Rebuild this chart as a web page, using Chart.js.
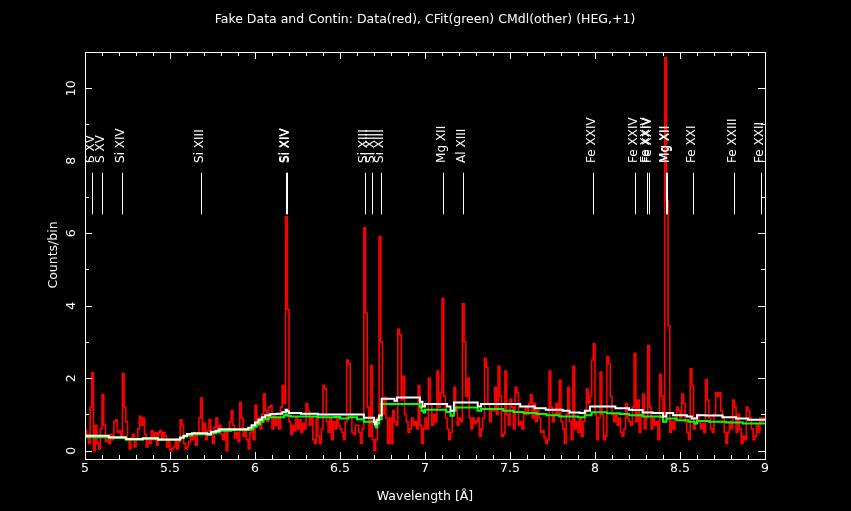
<!DOCTYPE html>
<html>
<head>
<meta charset="utf-8">
<script src="https://cdn.jsdelivr.net/npm/chart.js@4.4.0/dist/chart.umd.min.js"></script>
<style>
  html, body { margin: 0; padding: 0; background: #000; }
</style>
</head>
<body>
<canvas id="chart" width="851" height="511"></canvas>
<script>
// HEG +1 counts, 0.01 A bins starting at 5.00 A
const binStart = 5.0;
const binWidth = 0.01;
const dataCounts = [
  0.55,0.45,0.2,1.2,2.15,0.0,0.7,0.2,0.05,0.6, 1.55,0.7,0.25,0.3,0.2,0.45,0.3,0.8,0.85,0.5,
  0.55,0.4,2.12,1.2,0.8,0.3,0.05,0.35,0.45,0.1, 0.3,0.6,0.95,0.7,0.9,0.45,0.1,0.35,0.2,0.55,
  0.3,0.5,0.15,0.5,0.55,0.3,0.5,0.4,0.1,0.3,
  0.0,0.05,0.1,0.3,0.05,0.25,0.85,0.7,0.2,0.05, 0.1,0.25,0.45,0.3,0.5,0.15,0.45,0.9,1.45,0.5,
  0.75,0.3,0.55,0.85,0.45,0.2,0.65,0.9,0.5,0.7, 0.45,0.3,0.55,0.0,0.6,0.8,1.1,0.7,0.35,0.5,
  0.25,1.33,0.9,0.4,0.6,0.3,0.05,0.5,0.6,0.3,
  1.25,0.7,0.9,0.6,1.0,1.56,1.1,0.8,1.2,1.25, 0.6,1.0,0.7,0.9,0.6,1.2,1.8,1.3,6.45,3.9,
  0.8,0.45,0.7,0.55,0.9,0.6,0.85,0.5,0.75,0.6, 1.3,1.1,0.7,0.9,0.3,0.2,0.9,0.4,0.2,0.6,
  1.8,1.7,0.8,0.5,0.9,0.3,0.8,0.6,0.9,0.7,
  0.6,0.5,0.3,0.8,2.5,2.4,1.0,0.5,0.45,0.7, 0.7,0.5,0.2,0.6,6.15,3.8,1.2,0.4,2.35,0.3,
  0.0,0.3,0.9,5.9,3.0,1.0,1.47,0.9,0.2,0.9, 0.2,1.1,0.8,0.7,3.35,3.2,1.4,2.05,1.0,0.8,
  0.5,0.6,0.9,0.7,0.8,0.6,1.8,0.7,0.2,0.6,
  0.9,0.6,2.0,1.3,0.7,1.0,0.8,2.2,1.2,1.6, 4.2,1.5,0.9,0.6,0.3,0.5,1.0,1.75,1.2,0.7,
  0.9,0.8,4.05,3.0,1.5,2.0,0.9,0.6,0.9,0.75, 0.8,0.9,0.4,0.6,0.9,2.55,2.3,1.3,0.8,1.1,
  1.1,1.75,1.0,2.33,1.5,0.4,0.45,2.2,1.0,0.7,
  1.42,1.2,0.6,1.75,1.6,0.7,0.8,0.6,1.0,1.2, 1.0,1.3,1.54,0.9,1.3,0.8,1.1,0.9,0.5,0.55,
  0.36,0.2,0.3,2.2,1.2,0.8,1.0,1.3,1.0,1.94, 0.8,0.6,0.2,1.0,1.75,0.8,0.3,2.33,0.6,0.8,
  0.5,0.9,0.4,0.8,1.0,1.7,1.3,1.5,2.5,2.95,
  1.0,0.3,0.9,2.17,1.0,0.3,0.4,2.6,2.4,1.5, 1.0,0.8,1.0,0.7,0.9,0.5,0.4,0.6,1.3,0.9,
  0.8,0.7,1.2,2.68,0.8,1.4,0.5,1.0,1.56,0.6, 0.9,2.9,1.2,0.6,0.9,0.7,0.8,0.3,2.1,1.5,
  1.0,10.85,6.9,3.45,0.5,0.8,0.6,0.9,1.2,1.1,
  0.9,1.56,1.3,0.8,0.5,0.3,2.26,1.8,0.6,0.8, 1.0,0.8,0.6,0.75,0.5,1.96,1.4,0.9,0.6,0.5,
  1.0,1.6,1.5,1.6,1.1,0.9,0.5,0.2,0.5,0.8, 0.6,1.4,1.2,0.5,1.0,0.6,0.2,0.4,0.3,1.2,
  1.1,0.9,0.6,0.3,0.4,0.7,0.5,0.9,0.8,0.9
];

// continuum fit (green), step edges
const fitWave = [5.00,5.14,5.24,5.34,5.43,5.56,5.58,5.60,5.63,5.72,5.74,5.77,5.79,
  5.86,5.97,5.99,6.01,6.03,6.05,6.08,6.17,6.18,6.19,6.21,6.37,6.47,6.50,6.55,
  6.60,6.64,6.705,6.71,6.72,6.73,6.745,6.97,6.98,6.99,7.00,7.125,7.15,7.17,7.18,7.31,7.33,
  7.46,7.52,7.58,7.655,7.715,7.79,7.90,7.94,7.98,8.07,8.145,
  8.20,8.28,8.39,8.40,8.42,8.48,8.55,8.585,8.60,8.67,8.77,8.87,9.00];
const fitValue = [0.37,0.35,0.30,0.32,0.30,0.34,0.39,0.42,0.45,0.43,0.48,0.51,0.55,
  0.57,0.59,0.66,0.73,0.80,0.87,0.92,0.97,1.00,0.96,0.94,0.92,0.93,0.89,0.92,
  0.87,0.80,0.70,0.64,0.75,0.87,1.29,1.20,1.10,1.05,1.13,1.07,0.96,1.10,1.19,1.10,1.15,
  1.10,1.07,1.04,1.01,0.98,0.94,0.92,0.98,1.06,1.03,1.01,
  0.98,0.94,0.92,0.80,0.89,0.84,0.80,0.75,0.82,0.80,0.78,0.75,0.75];

// full model (white), step edges
const mdlWave = [5.00,5.14,5.24,5.34,5.43,5.56,5.58,5.60,5.63,5.72,5.74,5.77,5.79,
  5.96,5.98,6.00,6.02,6.04,6.06,6.09,6.13,6.16,6.18,6.19,6.20,6.27,6.37,
  6.64,6.70,6.705,6.715,6.73,6.745,6.82,6.835,6.97,6.985,7.00,7.13,7.15,7.17,7.31,7.33,
  7.56,7.645,7.71,7.81,7.85,7.91,7.94,7.97,8.12,
  8.20,8.22,8.28,8.34,8.40,8.42,8.46,8.54,8.57,8.60,8.65,8.75,8.83,8.90,9.00];
const mdlValue = [0.41,0.37,0.32,0.34,0.31,0.36,0.41,0.46,0.48,0.46,0.52,0.55,0.59,
  0.63,0.70,0.78,0.85,0.92,0.98,1.01,1.02,1.06,1.13,1.08,1.04,1.02,1.00,
  0.91,0.80,0.73,0.85,0.97,1.43,1.38,1.47,1.35,1.22,1.29,1.22,1.10,1.33,1.22,1.29,
  1.22,1.17,1.13,1.10,1.05,1.04,1.10,1.22,1.17,
  1.13,1.12,1.05,1.04,0.94,1.04,0.98,0.94,0.89,0.98,0.97,0.92,0.89,0.85,0.85];

// line identifications
const lineWave = [5.0387,5.1015,5.2172,5.6805,6.1804,6.1858,6.6479,6.6882,6.7403,
  7.1058,7.2250,7.9857,8.2329,8.3043,8.3162,8.4192,8.4246,8.5740,8.8149,8.9748];
const lineLabel = ["S XV","S XV","Si XIV","Si XIII","Si XIV","Si XIV","Si XIII","Si XIII","Si XIII",
  "Mg XII","Al XIII","Fe XXIV","Fe XXIV","Fe XXIV","Fe XXIV","Mg XII","Mg XII","Fe XXI","Fe XXIII","Fe XXII"];

const xTicks = [5, 5.5, 6, 6.5, 7, 7.5, 8, 8.5, 9];
const xTickLabels = ["5","5.5","6","6.5","7","7.5","8","8.5","9"];
const yTicks = [0, 2, 4, 6, 8, 10];
const yTickLabels = ["0","2","4","6","8","10"];

const titleText = "Fake Data and Contin: Data(red), CFit(green) CMdl(other) (HEG,+1)";
const xTitle = "Wavelength [\u00c5]";
const yTitle = "Counts/bin";

const FONT = "12.5px 'DejaVu Sans'";
const LINE_FONT = "12px 'DejaVu Sans'";

function histPoints() {
  const pts = dataCounts.map((v, i) => ({ x: binStart + i * binWidth, y: v }));
  pts.push({ x: binStart + dataCounts.length * binWidth, y: dataCounts[dataCounts.length - 1] });
  return pts;
}
function stepPoints(w, v) {
  return w.map((x, i) => ({ x: x, y: v[i] }));
}

const framePlugin = {
  id: "frame",
  beforeDraw(chart) {
    const ctx = chart.ctx;
    ctx.save();
    ctx.fillStyle = "#000";
    ctx.fillRect(0, 0, chart.width, chart.height);
    ctx.restore();
  },
  afterDatasetsDraw(chart) {
    const ctx = chart.ctx;
    const xs = chart.scales.x, ys = chart.scales.y;
    const a = chart.chartArea;
    ctx.save();
    ctx.strokeStyle = "#fff";
    ctx.fillStyle = "#fff";
    ctx.lineWidth = 1;

    // line markers
    ctx.font = LINE_FONT;
    const yTop = ys.getPixelForValue(7.67), yBot = ys.getPixelForValue(6.52);
    const yTxt = ys.getPixelForValue(7.94);
    lineWave.forEach((w, i) => {
      const px = Math.round(xs.getPixelForValue(w)) + 0.5;
      ctx.beginPath();
      ctx.moveTo(px, yTop);
      ctx.lineTo(px, yBot);
      ctx.stroke();
      ctx.save();
      ctx.translate(px + 1, yTxt);
      ctx.rotate(-Math.PI / 2);
      ctx.textAlign = "left";
      ctx.textBaseline = "alphabetic";
      ctx.fillText(lineLabel[i], 0, 0);
      ctx.restore();
    });

    // box
    ctx.strokeRect(a.left + 0.5, a.top + 0.5, a.right - a.left, a.bottom - a.top);

    // x ticks (inward, bottom and top)
    ctx.beginPath();
    for (let k = 0; k <= 40; k++) {
      const v = 5 + k * 0.1;
      const px = Math.round(xs.getPixelForValue(v)) + 0.5;
      const len = (k % 5 === 0) ? 7 : 4;
      ctx.moveTo(px, a.bottom); ctx.lineTo(px, a.bottom - len);
      ctx.moveTo(px, a.top); ctx.lineTo(px, a.top + len);
    }
    // y ticks (inward, left and right)
    for (let k = 0; k <= 11; k++) {
      const py = Math.round(ys.getPixelForValue(k)) + 0.5;
      const len = (k % 2 === 0) ? 7 : 4;
      ctx.moveTo(a.left, py); ctx.lineTo(a.left + len, py);
      ctx.moveTo(a.right, py); ctx.lineTo(a.right - len, py);
    }
    ctx.stroke();

    // tick labels
    ctx.font = FONT;
    ctx.textAlign = "center";
    ctx.textBaseline = "middle";
    xTicks.forEach((v, i) => {
      ctx.fillText(xTickLabels[i], xs.getPixelForValue(v), a.bottom + 10);
    });
    yTicks.forEach((v, i) => {
      ctx.save();
      ctx.translate(a.left - 13, ys.getPixelForValue(v));
      ctx.rotate(-Math.PI / 2);
      ctx.fillText(yTickLabels[i], 0, 0);
      ctx.restore();
    });

    // titles
    ctx.fillText(titleText, (a.left + a.right) / 2, 20);
    ctx.fillText(xTitle, (a.left + a.right) / 2, 497);
    ctx.save();
    ctx.translate(54, 255);
    ctx.rotate(-Math.PI / 2);
    ctx.fillText(yTitle, 0, 0);
    ctx.restore();
    ctx.restore();
  }
};

new Chart(document.getElementById("chart"), {
  type: "line",
  data: {
    datasets: [
      { label: "CMdl", data: stepPoints(mdlWave, mdlValue), borderColor: "#ffffff",
        borderWidth: 2, stepped: true, pointRadius: 0, order: 0 },
      { label: "CFit", data: stepPoints(fitWave, fitValue), borderColor: "#00ff00",
        borderWidth: 2, stepped: true, pointRadius: 0, order: 1 },
      { label: "Data", data: histPoints(), borderColor: "#ff0000",
        borderWidth: 1.6, stepped: true, pointRadius: 0, order: 2 }
    ]
  },
  options: {
    responsive: false,
    animation: false,
    devicePixelRatio: 1,
    layout: { padding: { left: 85, right: 86, top: 52, bottom: 52 } },
    plugins: { legend: { display: false }, tooltip: { enabled: false }, title: { display: false } },
    scales: {
      x: { type: "linear", min: 5, max: 9, display: false },
      y: { type: "linear", min: -0.23, max: 11, display: false }
    }
  },
  plugins: [framePlugin]
});
</script>
</body>
</html>
